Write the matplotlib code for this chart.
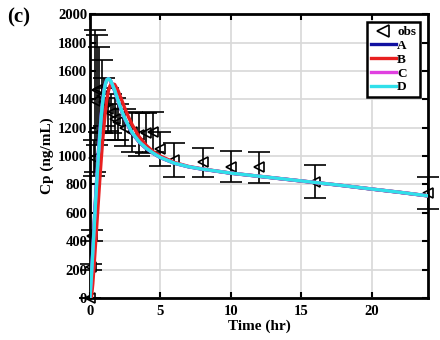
import matplotlib
matplotlib.use("Agg")
import matplotlib.pyplot as plt
from matplotlib.lines import Line2D

# Observed plasma concentrations (mean +/- SD)
t_obs = [0, 0.083, 0.167, 0.25, 0.33, 0.5, 0.67, 0.83, 1, 1.25, 1.5, 1.75,
         2, 2.5, 3, 3.5, 4, 4.5, 5, 6, 8, 10, 12, 16, 24]
c_obs = [0, 220, 440, 985, 1390, 1465, 1470, 1420, 1380, 1330, 1300, 1260,
         1240, 1200, 1170, 1150, 1165, 1170, 1050, 975, 955, 925, 920, 820, 740]
sd_obs = [0, 20, 40, 125, 500, 390, 300, 260, 170, 150, 140, 150,
          130, 130, 140, 150, 140, 140, 120, 120, 100, 110, 110, 115, 110]

# Model predictions
t_fit = [0, 0.1, 0.2, 0.3, 0.4, 0.5, 0.6, 0.7, 0.8, 0.9, 1.0, 1.1, 1.2, 1.3,
         1.4, 1.5, 1.75, 2, 2.25, 2.5, 2.75, 3, 3.5, 4, 4.5, 5, 6, 7, 8, 10,
         12, 14, 16, 18, 20, 22, 24]
cp_A = [0, 170, 345, 530, 710, 880, 1035, 1170, 1295, 1390, 1465, 1512, 1538,
        1544, 1538, 1522, 1460, 1385, 1315, 1255, 1205, 1160, 1097, 1052, 1018,
        989, 949, 924, 907, 879, 857, 835, 813, 791, 767, 744, 719]
cp_B = [0, 0, 100, 240, 390, 540, 690, 840, 980, 1110, 1220, 1320, 1400,
        1455, 1490, 1508, 1505, 1460, 1395, 1330, 1272, 1220, 1135, 1075, 1030,
        1000, 955, 927, 909, 880, 858, 836, 814, 792, 768, 745, 720]
cp_C = [0, 160, 330, 510, 690, 860, 1020, 1160, 1285, 1385, 1462, 1511, 1538,
        1545, 1539, 1524, 1463, 1388, 1318, 1258, 1208, 1163, 1099, 1054, 1019,
        990, 950, 925, 908, 880, 858, 836, 814, 792, 768, 745, 720]
cp_D = [0, 150, 320, 500, 680, 850, 1010, 1150, 1280, 1380, 1460, 1510, 1538,
        1545, 1540, 1525, 1465, 1390, 1320, 1260, 1210, 1165, 1100, 1055, 1020,
        990, 950, 925, 908, 880, 858, 836, 814, 792, 768, 745, 720]

series = [("A", cp_A, "#1010a0"), ("B", cp_B, "#e82020"),
          ("C", cp_C, "#e040e0"), ("D", cp_D, "#30e0ea")]

plt.rcParams["font.family"] = ["Liberation Serif", "DejaVu Serif"]
plt.rcParams["font.weight"] = "bold"

fig = plt.figure(figsize=(4.4, 3.4), dpi=100)
ax = fig.add_axes([0.2045, 0.1235, 0.768, 0.835])

ax.grid(True, color="#d8d8d8", linewidth=1.2)
ax.set_axisbelow(True)

ax.errorbar(t_obs, c_obs, yerr=sd_obs, fmt="<", color="black",
            mfc="none", mec="black", ms=7, mew=1.2, elinewidth=1.2,
            capsize=8, capthick=1.2, zorder=2, clip_on=False)

for name, vals, col in series:
    ax.plot(t_fit, vals, color=col, linewidth=2.4, zorder=3)

ax.set_xlim(0, 24)
ax.set_ylim(0, 2000)
ax.set_xticks([0, 5, 10, 15, 20])
ax.set_yticks(range(0, 2001, 200))
ax.tick_params(direction="in", length=4, width=1.5, top=True, right=True,
               labelsize=10.5)
ax.tick_params(axis="x", pad=5)
ax.tick_params(axis="y", pad=2)
for lab in ax.get_xticklabels() + ax.get_yticklabels():
    lab.set_fontweight("bold")
for sp in ax.spines.values():
    sp.set_linewidth(2)

ax.set_xlabel("Time (hr)", fontsize=11, fontweight="bold", labelpad=1)
ax.set_ylabel("Cp (ng/mL)", fontsize=11, fontweight="bold", labelpad=3)

handles = [Line2D([], [], marker="<", ls="none", mfc="none", mec="black",
                  ms=8, mew=1.2, label="obs")]
handles += [Line2D([], [], color=col, lw=2.4, label=name)
            for name, _, col in series]
leg = ax.legend(handles=handles, loc="upper right",
                handlelength=1.9, handletextpad=0.1, borderpad=0.3,
                labelspacing=0.12, borderaxespad=0.6, fancybox=False,
                framealpha=1, edgecolor="black",
                prop={"weight": "bold", "size": 9.5})
leg.get_frame().set_linewidth(1.8)

fig.text(0.016, 0.948, "(c)", fontsize=15, fontweight="bold", ha="left",
         va="center")

fig.savefig("out.png", dpi=100)
